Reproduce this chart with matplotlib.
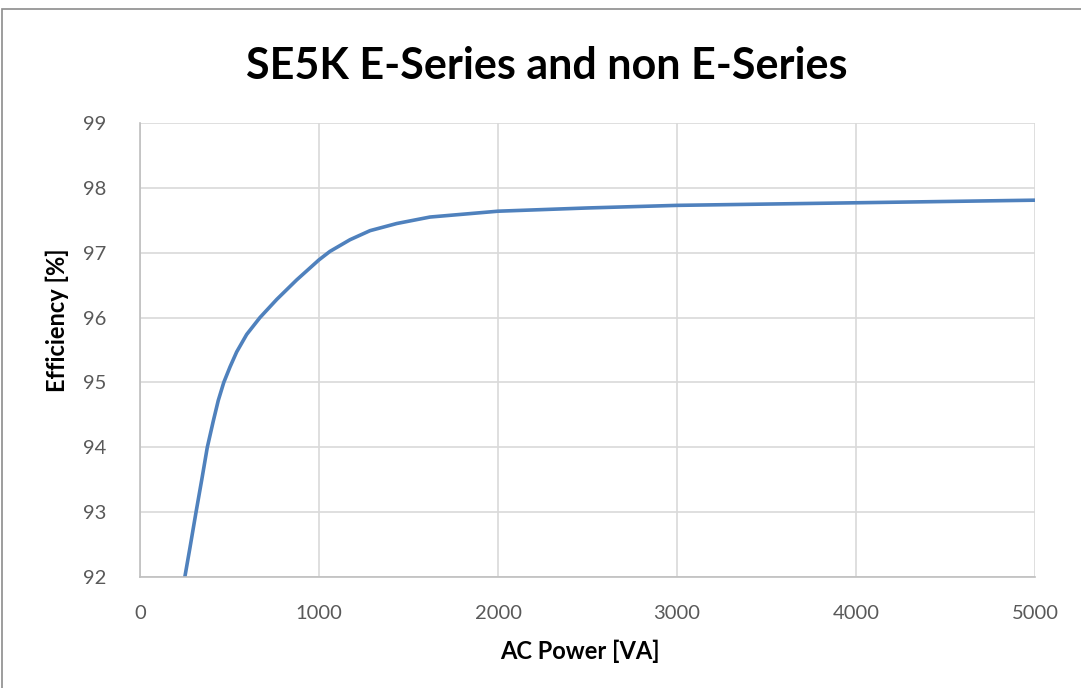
import matplotlib
matplotlib.use("Agg")
import matplotlib.pyplot as plt
from matplotlib.patches import Rectangle

ac_power = [246, 279, 313, 345, 376, 409, 437, 468, 503, 540, 596, 670, 764, 875,
            1000, 1061, 1173, 1285, 1434, 1620, 2000, 2500, 3000, 4000, 5000]
efficiency = [91.93, 92.45, 93.0, 93.5, 94.0, 94.40, 94.72, 95.0, 95.24, 95.47, 95.74,
              96.0, 96.28, 96.58, 96.89, 97.02, 97.2, 97.34, 97.45, 97.55, 97.64,
              97.69, 97.73, 97.77, 97.81]
x_ticks = [0, 1000, 2000, 3000, 4000, 5000]
y_ticks = [92, 93, 94, 95, 96, 97, 98, 99]

plt.rcParams['font.family'] = ['Lato', 'DejaVu Sans']

fig = plt.figure(figsize=(10.81, 6.88), dpi=100)
ax = fig.add_axes([140/1081, (688-577)/688, (1035-140)/1081, (577-123)/688])

ax.plot(ac_power, efficiency, color='#4f81bd', lw=2.6, solid_capstyle='butt',
        solid_joinstyle='round')
ax.set_xlim(0, 5000)
ax.set_ylim(92, 99)
ax.set_xticks(x_ticks)
ax.set_yticks(y_ticks)
ax.grid(True, color='#d9d9d9', lw=1.2)
ax.set_axisbelow(True)
for s in ['top', 'right']:
    ax.spines[s].set_visible(False)
for s in ['left', 'bottom']:
    ax.spines[s].set_color('#bfbfbf')
    ax.spines[s].set_linewidth(1.2)
ax.tick_params(length=0, labelsize=14.5, colors='#595959')
ax.tick_params(axis='x', pad=20)
ax.tick_params(axis='y', pad=24)

fig.text(580/1081, 1 - 651/688, 'AC Power [VA]', ha='center', va='center',
         fontsize=17, fontweight='bold')
fig.text(57/1081, 1 - 320/688, 'Efficiency [%]', ha='center', va='center',
         rotation=90, fontsize=17, fontweight='bold')
fig.text(547/1081, 1 - 66/688, 'SE5K E-Series and non E-Series', ha='center', va='center',
         fontsize=31, fontweight='bold')

fig.patches.append(Rectangle((0.002, -0.01), 1.5, 1.0 - 0.002 - 8/688 + 0.01, transform=fig.transFigure,
                             fill=False, edgecolor='#8c8c8c', lw=1.2))
fig.savefig('out.png', dpi=100)
